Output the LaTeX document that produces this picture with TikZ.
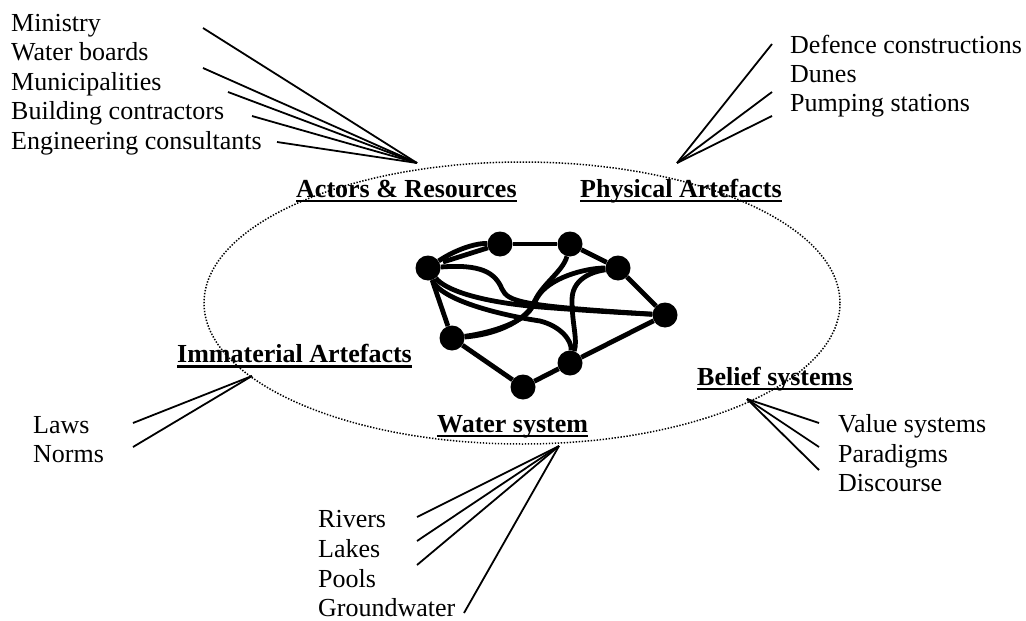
\documentclass[tikz,border=0pt]{standalone}
\usepackage{fontspec}
\setmainfont{Liberation Serif}
\begin{document}
\begin{tikzpicture}[x=1pt,y=-1pt,
  txt/.style={font=\fontsize{26}{29}\selectfont, inner sep=0pt, anchor=base west},
  hdr/.style={font=\fontsize{26}{29}\selectfont\bfseries, inner sep=0pt, anchor=base west},
  lead/.style={line width=1.8pt},
  uline/.style={line width=2.4pt},
  dot/.style={circle, fill=black, minimum size=25pt, inner sep=0pt},
  net/.style={line width=4.8pt},
  ring/.style={line width=1.5pt, dash pattern=on 1.4pt off 1.6pt}]
\useasboundingbox (0,0) rectangle (1026,621);

% ring
\draw[ring] (522,303) ellipse [x radius=318pt, y radius=141pt];

% network nodes
\node[dot] (A) at (428,268) {};
\node[dot] (B) at (500,244) {};
\node[dot] (C) at (570,244) {};
\node[dot] (D) at (618,268) {};
\node[dot] (E) at (665,315) {};
\node[dot] (F) at (570,363) {};
\node[dot] (G) at (523,387) {};
\node[dot] (H) at (452,338) {};
\coordinate (ab0) at (443,262);

% network edges
\draw[net] (A) .. controls (455,250) and (475,243) .. (B);
\draw[net] (ab0) -- (B);
\draw[net] (B) -- (C);
\draw[net] (C) -- (D);
\draw[net] (D) -- (E);
\draw[net] (E) -- (F);
\draw[net] (F) -- (G);
\draw[net] (G) -- (H);
\draw[net] (H) -- (A);
\draw[net] (A) .. controls (480,264) and (495,272) .. (502,289) .. controls (508,302) and (522,306) .. (E);
\draw[net] (A) .. controls (445,290) and (480,302) .. (540,307) .. controls (590,311) and (630,313) .. (E);
\draw[net] (A) .. controls (440,300) and (500,315) .. (540,321) .. controls (560,326) and (572,340) .. (F);
\draw[net] (H) .. controls (490,335) and (525,325) .. (537,298) .. controls (548,278) and (585,268) .. (D);
\draw[net] (C) .. controls (563,272) and (540,285) .. (533,305) .. controls (527,322) and (490,333) .. (H);
\draw[net] (D) .. controls (590,272) and (572,280) .. (572,300) .. controls (572,325) and (578,340) .. (F);

% headers
\node[hdr] (act) at (296,197) {Actors \& Resources};
\node[hdr] (phy) at (580,197) {Physical Artefacts};
\node[hdr] (imm) at (177,362.5) {Immaterial Artefacts};
\node[hdr] (bel) at (697,385) {Belief systems};
\node[hdr] (wat) at (437,432) {Water system};
\foreach \n in {act,phy,imm,bel,wat}
  \draw[uline] ([yshift=-4pt]\n.base west) -- ([yshift=-4pt]\n.base east);

% lists
\node[txt] (min) at (11,31) {Ministry};
\node[txt] (wbo) at (11,60.5) {Water boards};
\node[txt] (mun) at (11,90) {Municipalities};
\node[txt] (bui) at (11,119.5) {Building contractors};
\node[txt] (eng) at (11,149) {Engineering consultants};

\node[txt] (def) at (790,53) {Defence constructions};
\node[txt] (dun) at (790,82) {Dunes};
\node[txt] (pum) at (790,111) {Pumping stations};

\node[txt] (law) at (33,433) {Laws};
\node[txt] (nor) at (33,462) {Norms};

\node[txt] (riv) at (318,527) {Rivers};
\node[txt] (lak) at (318,557) {Lakes};
\node[txt] (poo) at (318,587) {Pools};
\node[txt] (gro) at (318,616) {Groundwater};

\node[txt] (val) at (838,432.5) {Value systems};
\node[txt] (par) at (838,462) {Paradigms};
\node[txt] (dis) at (838,491.5) {Discourse};

% hubs and leader ends
\coordinate (hAR) at (417,163);
\coordinate (hPA) at (677,163);
\coordinate (hIA) at (252,376);
\coordinate (hWS) at (559,446);
\coordinate (hBS) at (747,399);

\coordinate (lMin) at (203,28);
\coordinate (lWbo) at (203,68);
\coordinate (lMun) at (228,92);
\coordinate (lBui) at (252,116);
\coordinate (lEng) at (277,142);
\coordinate (lDef) at (772,44);
\coordinate (lDun) at (772,92);
\coordinate (lPum) at (772,116);
\coordinate (lLaw) at (133,423);
\coordinate (lNor) at (133,447);
\coordinate (lRiv) at (417,517);
\coordinate (lLak) at (417,541);
\coordinate (lPoo) at (417,565);
\coordinate (lGro) at (464,613);
\coordinate (lVal) at (819,423);
\coordinate (lPar) at (819,447);
\coordinate (lDis) at (819,470);

\foreach \e in {lMin,lWbo,lMun,lBui,lEng} \draw[lead] (\e) -- (hAR);
\foreach \e in {lDef,lDun,lPum} \draw[lead] (\e) -- (hPA);
\foreach \e in {lLaw,lNor} \draw[lead] (\e) -- (hIA);
\foreach \e in {lRiv,lLak,lPoo,lGro} \draw[lead] (\e) -- (hWS);
\foreach \e in {lVal,lPar,lDis} \draw[lead] (\e) -- (hBS);
\end{tikzpicture}
\end{document}
